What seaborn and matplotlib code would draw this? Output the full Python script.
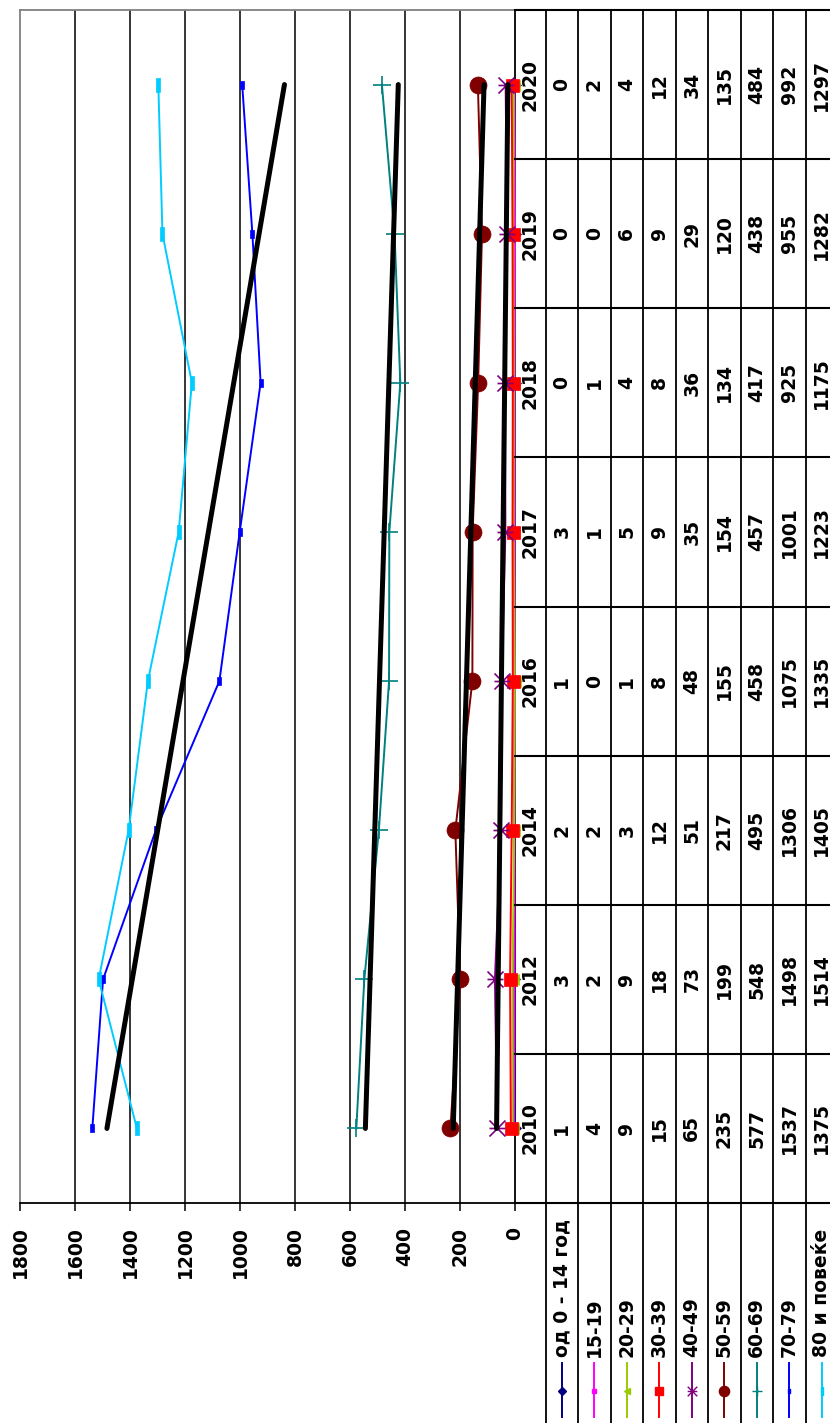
import numpy as np
import matplotlib
matplotlib.use("Agg")
import matplotlib.pyplot as plt
from matplotlib.path import Path
import seaborn as sns

# data
years = ["2010", "2012", "2014", "2016", "2017", "2018", "2019", "2020"]
groups = ["од 0 - 14 год", "15-19", "20-29", "30-39", "40-49",
          "50-59", "60-69", "70-79", "80 и повеќе"]
v_0_14 = [1, 3, 2, 1, 3, 0, 0, 0]
v_15_19 = [4, 2, 2, 0, 1, 1, 0, 2]
v_20_29 = [9, 9, 3, 1, 5, 4, 6, 4]
v_30_39 = [15, 18, 12, 8, 9, 8, 9, 12]
v_40_49 = [65, 73, 51, 48, 35, 36, 29, 34]
v_50_59 = [235, 199, 217, 155, 154, 134, 120, 135]
v_60_69 = [577, 548, 495, 458, 457, 417, 438, 484]
v_70_79 = [1537, 1498, 1306, 1075, 1001, 925, 955, 992]
v_80 = [1375, 1514, 1405, 1335, 1223, 1175, 1282, 1297]
series = [v_0_14, v_15_19, v_20_29, v_30_39, v_40_49,
          v_50_59, v_60_69, v_70_79, v_80]
trend_groups = ["40-49", "50-59", "60-69", "70-79"]
value_ticks = list(range(0, 1801, 200))

colors = ["#000080", "#FF00FF", "#99CC00", "#FF0000", "#800080",
          "#800000", "#008080", "#0000FF", "#00CCFF"]

# custom markers (chart is turned on its side)
star = Path([(-1, -1), (1, 1), (-1, 1), (1, -1), (-1, 0), (1, 0)],
            [Path.MOVETO, Path.LINETO] * 3)
bar = Path([(-0.5, -1), (0.5, -1), (0.5, 1), (-0.5, 1), (-0.5, -1)],
           [Path.MOVETO, Path.LINETO, Path.LINETO, Path.LINETO, Path.CLOSEPOLY])
long_bar = Path([(-0.3, -1), (0.3, -1), (0.3, 1), (-0.3, 1), (-0.3, -1)],
                [Path.MOVETO, Path.LINETO, Path.LINETO, Path.LINETO, Path.CLOSEPOLY])
PX = 0.72  # points per pixel at dpi 100
markers = ["D", "s", "<", "s", star, "o", "+", bar, long_bar]
msizes = [9, 8, 11, 13, 16, 17, 18, 8, 14]
filled = [True, True, True, True, False, True, False, True, True]
FS = 13.5

plt.rcParams["font.family"] = "DejaVu Sans"
plt.rcParams["font.weight"] = "bold"

fig = plt.figure(figsize=(8.3, 14.23), dpi=100)
W, H = 830, 1423
plot_left, plot_right, plot_top, plot_bottom = 20, 515, 10, 1203
bin_px = (plot_bottom - plot_top) / len(years)

ax = fig.add_axes([plot_left / W, (H - plot_bottom) / H,
                   (plot_right - plot_left) / W, (plot_bottom - plot_top) / H])
pos = np.arange(len(years))

for v in value_ticks[1:-1]:
    ax.axvline(v, color="black", lw=1.1, zorder=0)

for vals, col, mk, ms, fl in zip(series, colors, markers, msizes, filled):
    sns.lineplot(x=vals, y=pos, orient="y", sort=False, color=col, lw=1.4,
                 marker=mk, markersize=ms * PX,
                 markerfacecolor=col if fl else "none",
                 markeredgecolor=col, markeredgewidth=1.2 if not fl else 0.5,
                 clip_on=False, zorder=3, ax=ax, legend=False)

# linear trend lines
for g in trend_groups:
    vals = series[groups.index(g)]
    k, b = np.polyfit(pos, vals, 1)
    ends = [pos[0], pos[-1]]
    sns.lineplot(x=[k * e + b for e in ends], y=ends, orient="y", sort=False,
                 color="black", lw=3.6, solid_capstyle="round", zorder=5,
                 ax=ax, legend=False)

ax.set_xlim(1800, 0)
ax.set_ylim(-0.5, len(years) - 0.5)
ax.set_xlabel("")
ax.set_ylabel("")
ax.set_yticks([])
ax.set_xticks(value_ticks)
ax.set_xticklabels([str(v) for v in value_ticks], rotation=90,
                   fontsize=FS, fontweight="bold")
ax.tick_params(axis="x", direction="out", length=6, width=1.1, pad=11,
               colors="black")
for side in ["left", "top"]:
    ax.spines[side].set_color("#808080")
    ax.spines[side].set_linewidth(1.3)
for side in ["right", "bottom"]:
    ax.spines[side].set_color("black")
    ax.spines[side].set_linewidth(1.3)

# data table to the right of the plot
col_edges = [0, 30.5] + [30.5 + 32.5 * (i + 1) for i in range(len(groups))]
tx = fig.add_axes([plot_right / W, 0, col_edges[-1] / W, (H - plot_top) / H])
low = -0.5 - (H - plot_bottom) / bin_px
tx.set_xlim(0, col_edges[-1])
tx.set_ylim(low, len(years) - 0.5)
tx.axis("off")


def px_to_cat(py):
    return -0.5 - (py - plot_bottom) / bin_px


for e in col_edges[1:]:
    tx.plot([e, e], [low, len(years) - 0.5], color="black", lw=1.3, clip_on=False)
for i in range(len(years) + 1):
    tx.plot([0, col_edges[-1]], [i - 0.5, i - 0.5], color="black", lw=1.5, clip_on=False)

for i, y in enumerate(years):
    tx.text(15.25, i, y, rotation=90, ha="center", va="center",
            fontsize=FS, fontweight="bold")
    for j, vals in enumerate(series):
        cx = (col_edges[j + 1] + col_edges[j + 2]) / 2
        tx.text(cx, i, str(vals[i]), rotation=90, ha="center", va="center",
                fontsize=FS, fontweight="bold", clip_on=False)

# legend keys in the header column
for j, (g, col, mk, ms, fl) in enumerate(zip(groups, colors, markers, msizes, filled)):
    cx = (col_edges[j + 1] + col_edges[j + 2]) / 2
    tx.text(cx, px_to_cat(1357), g, rotation=90, rotation_mode="anchor",
            ha="left", va="center", fontsize=FS, fontweight="bold")
    tx.plot([cx, cx], [px_to_cat(1363), px_to_cat(1417)], color=col, lw=1.4,
            clip_on=False)
    tx.plot([cx], [px_to_cat(1391)], marker=mk, markersize=ms * PX * 0.6,
            markerfacecolor=col if fl else "none", markeredgecolor=col,
            markeredgewidth=1.0, clip_on=False)

fig.savefig("out.png", dpi=100)
